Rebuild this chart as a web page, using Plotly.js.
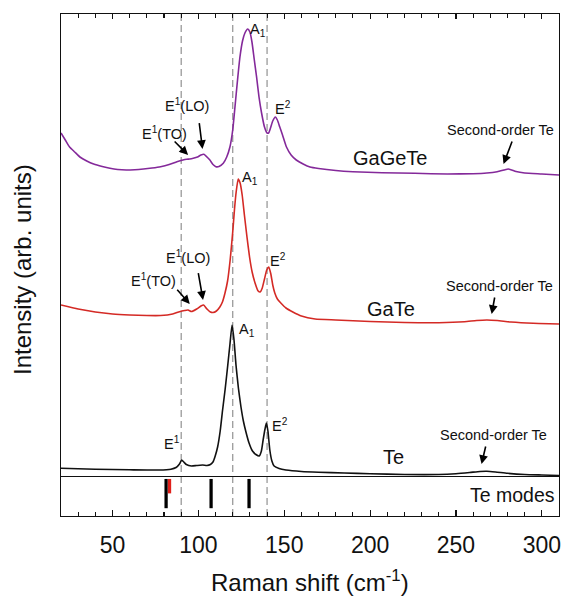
<!DOCTYPE html>
<html>
<head>
<meta charset="utf-8">
<script src="https://cdn.plot.ly/plotly-3.0.1.min.js"></script>
<style>html,body{margin:0;padding:0;background:#fff}#chart{width:567px;height:599px}</style>
</head>
<body>
<div id="chart"></div>
<script>
// Raman shift (cm^-1) and intensity (arb. units, stacked offsets as in the figure)
const teShift = [20, 40, 60, 77, 84, 87, 89, 90.3, 91.5, 93, 96, 99, 102.5, 105, 107, 108.5, 109.8, 111.2, 112.7, 114.1, 115.6, 117, 118.4, 119.6, 120.7, 121.9, 123.3, 124.8, 126.2, 127.7, 129.5, 131.5, 133.5, 135.4, 136.7, 137.7, 138.8, 139.6, 140.5, 141.6, 142.8, 144.1, 147, 151, 160, 170, 185, 200, 220, 240, 250, 258, 264, 268, 273, 280, 290, 300, 310];
const teInt   = [8.7, 7.7, 7.2, 7, 7.8, 9.5, 13, 17, 15, 12.5, 11, 11.5, 12, 11.5, 12.5, 15, 21, 30, 46, 67, 88, 110, 133, 152, 138, 112, 89, 70, 56, 45, 34, 26, 22.5, 21, 26, 37, 48, 54, 46, 27, 16, 11, 8.5, 7, 5.5, 4.7, 4, 3.3, 2.5, 2.5, 3.3, 4.5, 5.5, 5.7, 5, 3.7, 2.5, 2, 1.5];

const gateShift = [20, 30, 40, 50, 60, 70, 78, 85, 89, 92, 94, 96, 99, 101.5, 103, 105, 107, 108.5, 110.5, 112.5, 114, 115.5, 117, 118.5, 120, 121, 122, 123.2, 124.3, 125.5, 126.8, 128.3, 129.8, 131.3, 133, 134.8, 136, 137.2, 138.5, 139.8, 141, 142.2, 143.3, 144.5, 146, 148, 151, 155, 160, 168, 180, 200, 220, 240, 255, 262, 268, 274, 282, 295, 310];
const gateInt   = [172, 168, 165, 163, 162, 161.5, 161.5, 163, 165.3, 166.5, 167, 165.5, 168, 171, 172, 168, 165, 164.5, 166, 170, 175, 184, 196, 217, 245, 267, 285, 298, 294, 282, 262, 240, 220, 205, 194, 186, 185, 189, 198, 207, 210, 203, 192, 184, 178, 174, 169, 165, 161, 158, 157, 155.5, 154.5, 154.3, 155.3, 156.5, 157, 156.5, 155, 153.7, 153];

const gageteShift = [20, 22.5, 25, 28, 31, 35, 39, 44, 48.5, 53, 58, 63, 68, 73, 78, 83, 87.5, 91, 93.2, 95, 97, 99.5, 101.5, 103.2, 105, 106.7, 108.5, 110.2, 112, 114.5, 116.5, 118.4, 120, 121.3, 122.8, 124.2, 125.7, 127.1, 128.7, 130, 131.2, 132.5, 133.9, 135.3, 136.8, 138.5, 140, 140.9, 142, 143.3, 144.8, 146, 147.4, 149, 151.3, 154, 157, 161, 165, 170, 180, 190, 207, 226, 245, 260, 268, 274, 278, 280.4, 282.5, 285, 290, 300, 310];
const gageteInt   = [344, 337, 330, 325, 320, 316, 313, 310.5, 308.7, 307.5, 307, 307.3, 308, 309, 310.3, 312.5, 315.3, 317, 317.7, 318, 318.7, 320, 322, 322.7, 320, 317, 312.5, 310.3, 310.5, 313.7, 320, 330.3, 347, 370, 397, 420, 436, 444, 448, 445, 435, 418, 400, 380, 364, 350, 344, 344, 349, 356, 360, 357, 350, 342, 330, 322, 317, 313, 310, 308.5, 306.5, 305.3, 304.3, 303.7, 303, 303.3, 304, 305.3, 307, 308, 307, 305.5, 304, 303, 302];

// Te reference modes (bottom panel)
const teModes = [81.2, 107.4, 129.5];
const teModeRed = [83.2];
const guideLines = [90, 120, 140];

const seriesNames = ['Te', 'GaTe', 'GaGeTe'];
const seriesColors = ['#111111', '#d42a25', '#84299a'];

const FONT = 'Arial, "Liberation Sans", sans-serif';

const traces = [
  {x: teShift, y: teInt, name: seriesNames[0]},
  {x: gateShift, y: gateInt, name: seriesNames[1]},
  {x: gageteShift, y: gageteInt, name: seriesNames[2]}
].map((t, i) => Object.assign(t, {
  type: 'scatter', mode: 'lines', xaxis: 'x2', yaxis: 'y',
  line: {color: seriesColors[i], width: 1.6, shape: 'spline', smoothing: 0.5},
  hoverinfo: 'skip'
}));

traces.push({
  type: 'bar', x: teModes, y: teModes.map(() => 0.75), base: 0.2,
  width: 1.9, marker: {color: '#000', line: {width: 0}}, xaxis: 'x', yaxis: 'y2', hoverinfo: 'skip'
});
traces.push({
  type: 'bar', x: teModeRed, y: teModeRed.map(() => 0.37), base: 0.58,
  width: 1.9, marker: {color: '#e0201a', line: {width: 0}}, xaxis: 'x', yaxis: 'y2', hoverinfo: 'skip'
});

const split = 39 / 502;

function lab(x, y, text, size, anchor) {
  return {xref: 'x2', yref: 'y', x: x, y: y, text: text, showarrow: false,
          xanchor: anchor || 'center', yanchor: 'middle',
          font: {family: FONT, size: size || 14.5, color: '#111'}};
}
function arr(hx, hy, tx, ty) {
  return {xref: 'x2', yref: 'y', axref: 'x2', ayref: 'y', x: hx, y: hy, ax: tx, ay: ty,
          text: '', showarrow: true, arrowhead: 2, arrowsize: 1.1, arrowwidth: 1.6, arrowcolor: '#000'};
}

const annotations = [
  // GaGeTe
  lab(134.7, 447, 'A<sub>1</sub>'),
  lab(149.2, 368.7, 'E<sup>2</sup>'),
  lab(93.5, 372, 'E<sup>1</sup>(LO)'),
  lab(80, 343.7, 'E<sup>1</sup>(TO)'),
  lab(276.2, 347, 'Second-order Te', 14.5),
  lab(211.3, 318.7, 'GaGeTe', 20),
  arr(102.4, 328, 100.4, 355.3),
  arr(94, 322, 85.3, 337),
  arr(277.7, 313, 283, 337),
  // GaTe
  lab(130.2, 298.7, 'A<sub>1</sub>'),
  lab(146.6, 217, 'E<sup>2</sup>'),
  lab(94.2, 220.3, 'E<sup>1</sup>(LO)'),
  lab(73.6, 197, 'E<sup>1</sup>(TO)'),
  lab(275.2, 191, 'Second-order Te', 14.5),
  lab(212.3, 167.7, 'GaTe', 20),
  arr(102.7, 177, 99.8, 205.3),
  arr(95, 173, 86.9, 188.7),
  arr(270.8, 163, 272.7, 181),
  // Te
  lab(128.6, 147, 'A<sub>1</sub>'),
  lab(147.6, 52, 'E<sup>2</sup>'),
  lab(84.4, 33.7, 'E<sup>1</sup>'),
  lab(271.9, 42, 'Second-order Te', 14.5),
  lab(213.8, 20.3, 'Te', 20),
  arr(264.9, 13, 267.5, 32),
  // Te modes panel label
  {xref: 'x', yref: 'y2', x: 283, y: 0.54, text: 'Te modes', showarrow: false,
   xanchor: 'center', yanchor: 'middle', font: {family: FONT, size: 19.5, color: '#111'}},
  // axis titles
  {xref: 'paper', yref: 'paper', x: 0.5, y: 0, yshift: -65, text: 'Raman shift (cm<sup>-1</sup>)',
   showarrow: false, xanchor: 'center', yanchor: 'middle', font: {family: FONT, size: 24, color: '#111'}},
  {xref: 'paper', yref: 'paper', x: 0, xshift: -39, y: 0.49, text: 'Intensity (arb. units)', textangle: -90,
   showarrow: false, xanchor: 'center', yanchor: 'middle', font: {family: FONT, size: 24, color: '#111'}}
];

const shapes = guideLines.map(v => ({
  type: 'line', xref: 'x', yref: 'paper', x0: v, x1: v, y0: 0, y1: 1, layer: 'below',
  line: {color: '#9a9a9a', width: 1.3, dash: '7px,4px'}
}));

const axisCommon = {showgrid: false, zeroline: false, showline: true, linecolor: '#111', linewidth: 1.2};

const layout = {
  width: 567, height: 599,
  margin: {l: 61, r: 8, t: 14, b: 83},
  paper_bgcolor: '#fff', plot_bgcolor: '#fff',
  showlegend: false, barmode: 'overlay',
  font: {family: FONT, color: '#111'},
  xaxis: Object.assign({}, axisCommon, {
    domain: [0, 1], anchor: 'y2', range: [20, 310], tick0: 0, dtick: 50,
    ticks: 'inside', ticklen: 6, tickwidth: 1.2, tickcolor: '#111', mirror: true,
    minor: {ticks: 'inside', dtick: 10, ticklen: 4, tickwidth: 1.1, tickcolor: '#111'},
    tickfont: {family: FONT, size: 23, color: '#111'}, ticklabelstandoff: 8
  }),
  xaxis2: Object.assign({}, axisCommon, {
    matches: 'x', anchor: 'y', side: 'top', range: [20, 310], tick0: 0, dtick: 50,
    ticks: 'inside', ticklen: 5, tickwidth: 1.2, tickcolor: '#111', showticklabels: false,
    minor: {ticks: 'inside', dtick: 10, ticklen: 4, tickwidth: 1.1, tickcolor: '#111'}
  }),
  yaxis: Object.assign({}, axisCommon, {
    domain: [split, 1], range: [0, 463], mirror: true, ticks: '', showticklabels: false
  }),
  yaxis2: Object.assign({}, axisCommon, {
    domain: [0, split], range: [0, 1], mirror: true, ticks: '', showticklabels: false
  }),
  annotations: annotations,
  shapes: shapes
};

Plotly.newPlot('chart', traces, layout, {displayModeBar: false, staticPlot: true});
</script>
</body>
</html>
